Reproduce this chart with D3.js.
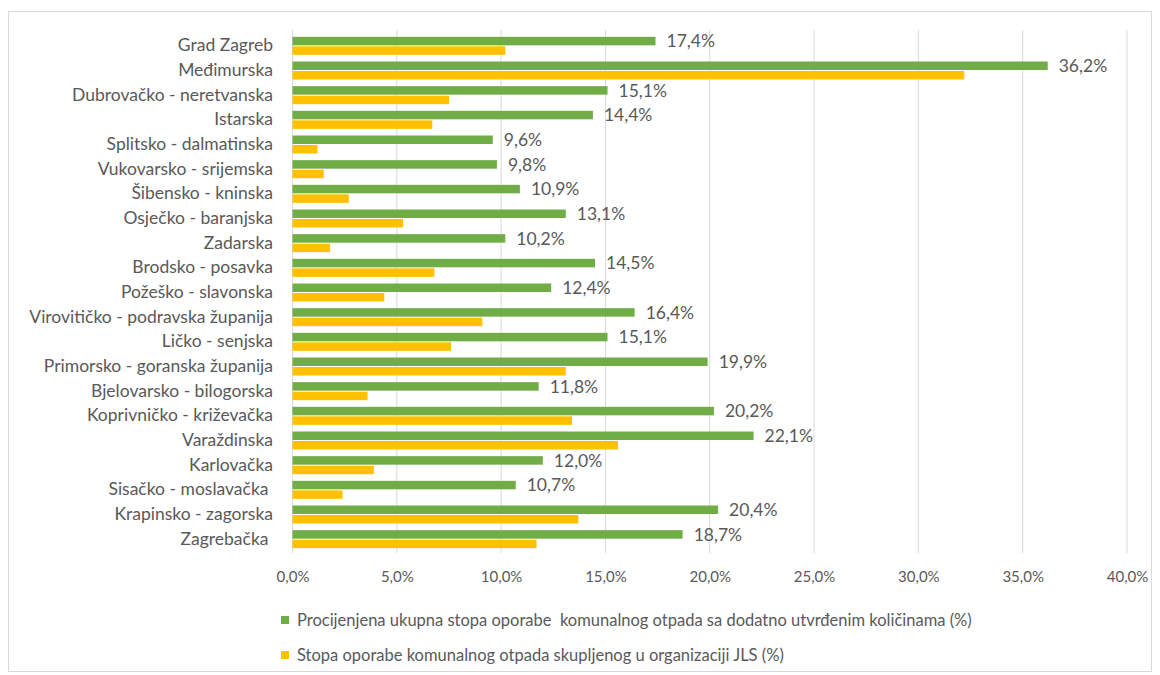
<!DOCTYPE html>
<html>
<head>
<meta charset="utf-8">
<script src="https://cdn.jsdelivr.net/npm/d3@7"></script>
<style>
  body { margin: 0; background: #fff; }
  text { font-family: Lato, "Open Sans", sans-serif; fill: #595959; }
</style>
</head>
<body>
<svg id="chart" width="1160" height="675"></svg>
<script>
var counties = ["Grad Zagreb", "Međimurska", "Dubrovačko - neretvanska", "Istarska",
  "Splitsko - dalmatinska", "Vukovarsko - srijemska", "Šibensko - kninska",
  "Osječko - baranjska", "Zadarska", "Brodsko - posavka", "Požeško - slavonska",
  "Virovitičko - podravska županija", "Ličko - senjska", "Primorsko - goranska županija",
  "Bjelovarsko - bilogorska", "Koprivničko - križevačka", "Varaždinska", "Karlovačka",
  "Sisačko - moslavačka ", "Krapinsko - zagorska", "Zagrebačka "];

// procijenjena ukupna stopa (green, labelled)
var totalRate = [17.4, 36.2, 15.1, 14.4, 9.6, 9.8, 10.9, 13.1, 10.2, 14.5, 12.4,
  16.4, 15.1, 19.9, 11.8, 20.2, 22.1, 12.0, 10.7, 20.4, 18.7];
// stopa JLS (yellow)
var jlsRate = [10.2, 32.2, 7.5, 6.7, 1.2, 1.5, 2.7, 5.3, 1.8, 6.8, 4.4,
  9.1, 7.6, 13.1, 3.6, 13.4, 15.6, 3.9, 2.4, 13.7, 11.7];

var xTicks = [0, 5, 10, 15, 20, 25, 30, 35, 40];
var legendLabels = ["Procijenjena ukupna stopa oporabe  komunalnog otpada sa dodatno utvrđenim količinama (%)",
  "Stopa oporabe komunalnog otpada skupljenog u organizaciji JLS (%)"];
var colors = ["#70ad47", "#ffc000"];

var svg = d3.select("#chart");
var fmt = function(v) { return v.toFixed(1).replace(".", ",") + "%"; };

// chart frame
svg.append("rect")
  .attr("x", 8.5).attr("y", 11.5)
  .attr("width", 1143).attr("height", 660)
  .attr("fill", "none").attr("stroke", "#d9d9d9");

var x = d3.scaleLinear().domain([0, 40]).range([292.5, 1127]);
var y = d3.scaleBand().domain(counties).range([33.5, 551.5]);

// gridlines
svg.append("g").selectAll("line")
  .data(xTicks).enter().append("line")
    .attr("x1", function(d) { return x(d); })
    .attr("x2", function(d) { return x(d); })
    .attr("y1", 30).attr("y2", 553)
    .attr("stroke", "#d9d9d9").attr("stroke-width", 1);

// x axis labels
var xAxis = svg.append("g")
  .attr("transform", "translate(0,566)")
  .call(d3.axisBottom(x).tickValues(xTicks).tickSize(0).tickPadding(5).tickFormat(fmt));
xAxis.select(".domain").remove();
xAxis.selectAll("text").attr("font-size", 15).style("font-family", null);

// y axis labels
var yAxis = svg.append("g")
  .attr("transform", "translate(273,0)")
  .call(d3.axisLeft(y).tickSize(0).tickPadding(0));
yAxis.select(".domain").remove();
yAxis.selectAll("text").attr("font-size", 17.5).style("font-family", null)
  .style("white-space", "pre");

var barH = 8.5;
var groups = svg.append("g").selectAll("g")
  .data(counties).enter().append("g")
    .attr("transform", function(d) { return "translate(0," + (y(d) + y.bandwidth() / 2) + ")"; });

groups.append("rect")
  .attr("x", x(0))
  .attr("y", -barH - 0.5)
  .attr("width", function(d, i) { return x(totalRate[i]) - x(0); })
  .attr("height", barH)
  .attr("fill", colors[0]);

groups.append("rect")
  .attr("x", x(0))
  .attr("y", 0.5)
  .attr("width", function(d, i) { return x(jlsRate[i]) - x(0); })
  .attr("height", barH)
  .attr("fill", colors[1]);

groups.append("text")
  .attr("x", function(d, i) { return x(totalRate[i]) + 11; })
  .attr("y", -barH / 2 - 0.5)
  .attr("dy", "0.35em")
  .attr("font-size", 17.5)
  .text(function(d, i) { return fmt(totalRate[i]); });

// legend
var legend = svg.append("g").selectAll("g")
  .data(legendLabels).enter().append("g")
    .attr("transform", function(d, i) { return "translate(281," + (620 + i * 35) + ")"; });
legend.append("rect")
  .attr("x", 0).attr("y", -4)
  .attr("width", 8).attr("height", 8)
  .attr("fill", function(d, i) { return colors[i]; });
legend.append("text")
  .attr("x", 16).attr("dy", "0.35em")
  .attr("font-size", 16.5)
  .style("white-space", "pre")
  .text(function(d) { return d; });
</script>
</body>
</html>
